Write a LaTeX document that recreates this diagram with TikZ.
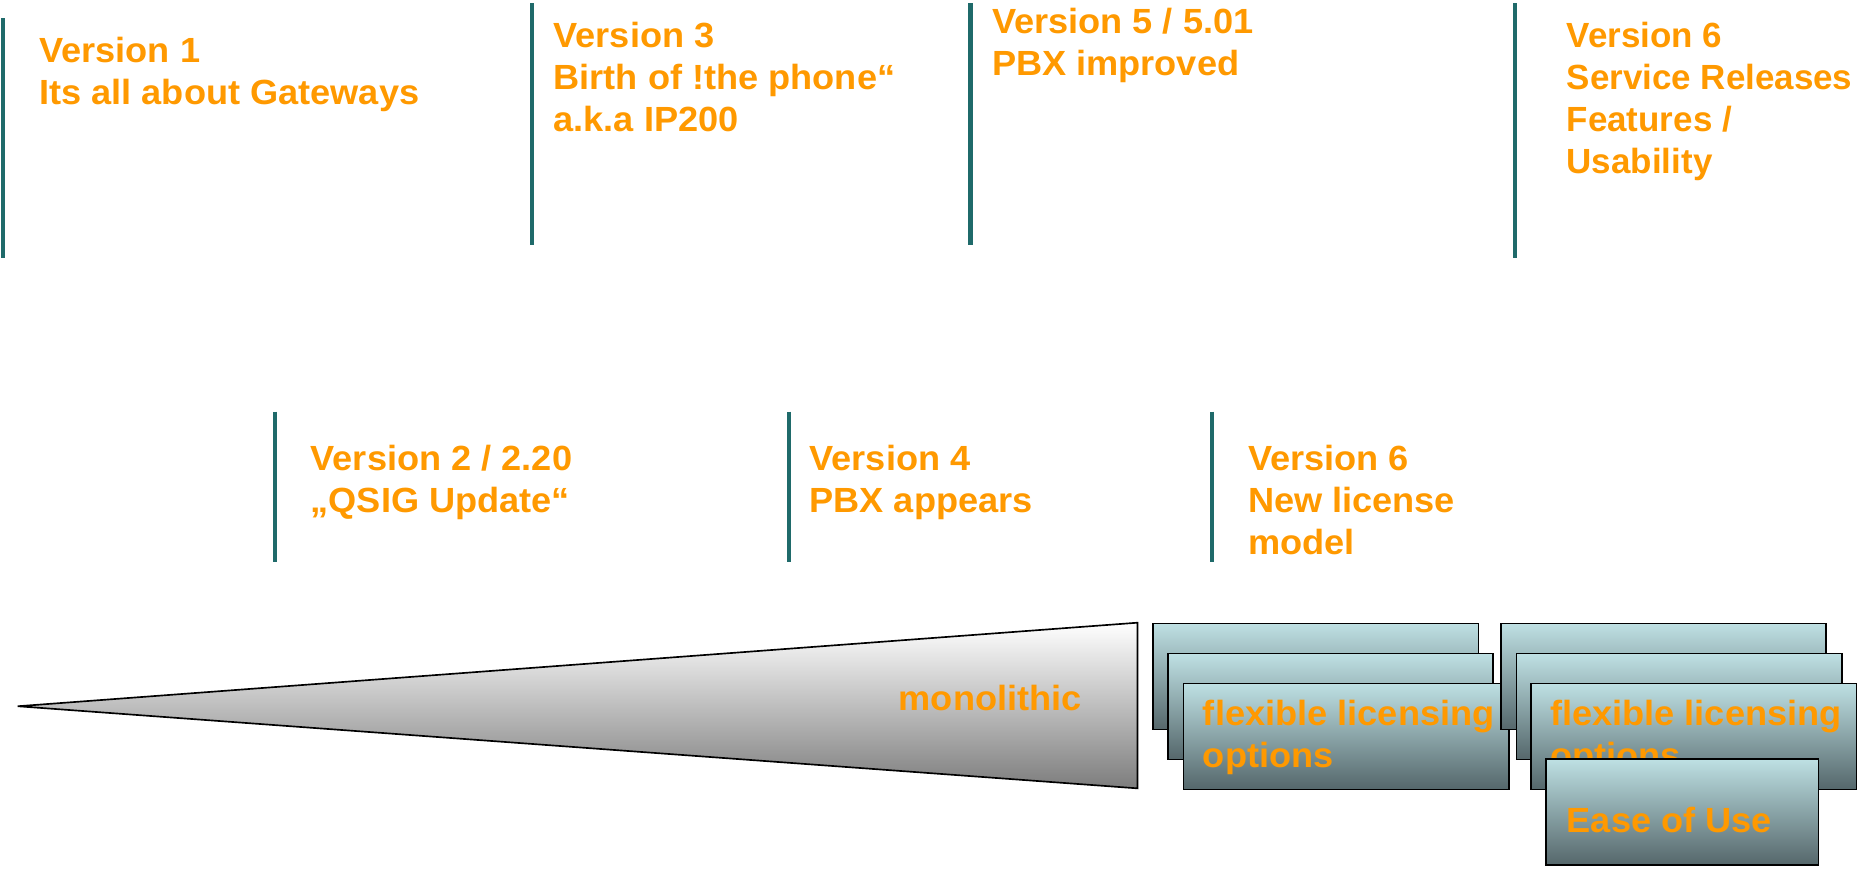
\documentclass[tikz,border=0pt]{standalone}
\usepackage{fontspec}
\setmainfont{Liberation Sans}[FakeStretch=1.035]
\newfontfamily\plainsans{Liberation Sans}
\definecolor{tealline}{RGB}{31,106,106}
\definecolor{lblorange}{RGB}{255,153,0}
\definecolor{boxtop}{RGB}{190,224,227}
\definecolor{boxmid}{RGB}{163,198,201}
\definecolor{boxbot}{RGB}{85,103,107}
\definecolor{wedgebot}{RGB}{125,125,125}
\newcommand{\lblfont}{\bfseries\fontsize{29.5}{35.5}\selectfont}
\newcommand{\lblfontn}{\plainsans\bfseries\fontsize{29.5}{35.5}\selectfont}
\begin{document}
\begin{tikzpicture}[x={(1pt,0)},y={(0,-1pt)},
  vline/.style={draw=tealline,line width=3.4pt},
  lbl/.style={text=lblorange,font=\lblfont,anchor=north west,inner sep=0pt,align=left},
  slbl/.style={text=lblorange,font=\lblfont,inner sep=0pt},
  lbox/.style={draw=black,line width=1.4pt,rectangle,inner sep=0pt,anchor=north west,
    top color=boxtop,middle color=boxmid,bottom color=boxbot,
    minimum width=274.5pt,minimum height=89.5pt},
  ebox/.style={lbox,minimum width=230pt,minimum height=89pt}]
\useasboundingbox (0,0) rectangle (1568,734);
% top row markers
\draw[vline] (2.7,15.5) -- (2.7,218);
\draw[vline] (449,2.8) -- (449,206.8);
\draw[vline] (819,2.8) -- (819,206.8);
\draw[vline] (1278.5,2.8) -- (1278.5,218);
% middle row markers
\draw[vline] (231.7,347.4) -- (231.7,474);
\draw[vline] (665.6,347.4) -- (665.6,474);
\draw[vline] (1022.5,347.4) -- (1022.5,474);
% top labels
\node[lbl] (v1) at (33,31) {Version 1\\Its all about Gateways};
\node[lbl] (v3) at (467,18.4) {Version 3\\Birth of !the phone“\\a.k.a IP200};
\node[lbl] (v5) at (837,6.3) {Version 5 / 5.01\\PBX improved};
\node[lbl,font=\lblfontn] (v6a) at (1322,18.4) {Version 6\\Service Releases\\Features /\\Usability};
% middle labels
\node[lbl] (v2) at (262,375.6) {Version 2 / 2.20\\„QSIG Update“};
\node[lbl] (v4) at (683,375.6) {Version 4\\PBX appears};
\node[lbl] (v6b) at (1053,375.6) {Version 6\\New license\\model};
% wedge
\draw[line width=1.4pt,top color=white,bottom color=wedgebot] (15,596) -- (960,525.5) -- (960,665.3) -- cycle;
\node[slbl,anchor=base east] (mono) at (913,600) {monolithic};
% box group 1
\node[lbox] (g1a) at (972.5,525.5) {};
\node[lbox] (g1b) at (985,550.8) {};
\node[lbox] (g1c) at (998,576) {};
\node[lbl] (g1t) at (1015,591) {flexible licensing\\options};
% box group 2
\node[lbox] (g2a) at (1266,525.5) {};
\node[lbox] (g2b) at (1279,550.8) {};
\node[lbox] (g2c) at (1291.5,576) {};
\node[lbl] (g2t) at (1308,591) {flexible licensing\\options};
\node[ebox] (ease) at (1304,640) {};
\node[slbl,anchor=base west] (easet) at (1322,702.7) {Ease of Use};
\end{tikzpicture}
\end{document}
